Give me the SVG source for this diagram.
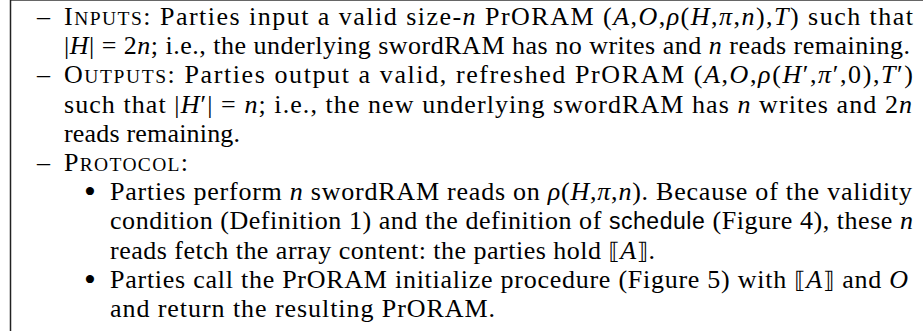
<svg xmlns="http://www.w3.org/2000/svg" width="923" height="331" viewBox="0 0 923 331">
<style>
text{font-family:"Liberation Serif","Times New Roman",serif;font-size:26px;fill:#000}
.i{font-style:italic}
.sc{font-size:19.5px}
.sf{font-family:"Liberation Sans",Arial,sans-serif;font-size:23px}
.br{font-family:"DejaVu Sans",sans-serif;font-size:23px}
.bul{font-size:34px}
.frame{stroke-linecap:square;fill:none}
</style>
<g id="frame">
<line class="frame" x1="10.5" y1="0.5" x2="923" y2="0.5" stroke="#666" stroke-width="1"/>
<line class="frame" x1="10.5" y1="0.5" x2="10.5" y2="331" stroke="#222" stroke-width="1.5"/>
</g>
<g id="inputs">
<text x="37" y="25">–</text>
<text x="64" y="25" textLength="849" lengthAdjust="spacing">I<tspan class="sc">NPUTS</tspan>: Parties input a valid size-<tspan class="i">n</tspan> PrORAM (<tspan class="i">A</tspan>,<tspan class="i">O</tspan>,<tspan class="i">ρ</tspan>(<tspan class="i">H</tspan>,<tspan class="i">π</tspan>,<tspan class="i">n</tspan>),<tspan class="i">T</tspan>) such that</text>
<text x="64" y="54.2" textLength="846" lengthAdjust="spacing">|<tspan class="i">H</tspan>| = 2<tspan class="i">n</tspan>; i.e., the underlying swordRAM has no writes and <tspan class="i">n</tspan> reads remaining.</text>
</g>
<g id="outputs">
<text x="37" y="83.4">–</text>
<text x="64" y="83.4" textLength="849" lengthAdjust="spacing">O<tspan class="sc">UTPUTS</tspan>: Parties output a valid, refreshed PrORAM (<tspan class="i">A</tspan>,<tspan class="i">O</tspan>,<tspan class="i">ρ</tspan>(<tspan class="i">H</tspan>′,<tspan class="i">π</tspan>′,0),<tspan class="i">T</tspan>′)</text>
<text x="64" y="112.6" textLength="848" lengthAdjust="spacing">such that |<tspan class="i">H</tspan>′| = <tspan class="i">n</tspan>; i.e., the new underlying swordRAM has <tspan class="i">n</tspan> writes and 2<tspan class="i">n</tspan></text>
<text x="64" y="141.8" textLength="176" lengthAdjust="spacing">reads remaining.</text>
</g>
<g id="protocol">
<text x="37" y="171">–</text>
<text x="64" y="171" textLength="124" lengthAdjust="spacing">P<tspan class="sc">ROTOCOL</tspan>:</text>
</g>
<g id="bullet1">
<text class="bul" x="84" y="203">•</text>
<text x="110" y="200.2" textLength="802" lengthAdjust="spacing">Parties perform <tspan class="i">n</tspan> swordRAM reads on <tspan class="i">ρ</tspan>(<tspan class="i">H</tspan>,<tspan class="i">π</tspan>,<tspan class="i">n</tspan>). Because of the validity</text>
<text x="110" y="229.4" textLength="803" lengthAdjust="spacing">condition (Definition 1) and the definition of <tspan class="sf">schedule</tspan> (Figure 4), these <tspan class="i">n</tspan></text>
<text x="110" y="258.6" textLength="545" lengthAdjust="spacing">reads fetch the array content: the parties hold <tspan class="br">⟦</tspan><tspan class="i">A</tspan><tspan class="br">⟧</tspan>.</text>
</g>
<g id="bullet2">
<text class="bul" x="84" y="290.6">•</text>
<text x="110" y="287.8" textLength="798" lengthAdjust="spacing">Parties call the PrORAM initialize procedure (Figure 5) with <tspan class="br">⟦</tspan><tspan class="i">A</tspan><tspan class="br">⟧</tspan> and <tspan class="i">O</tspan></text>
<text x="110" y="317" textLength="385" lengthAdjust="spacing">and return the resulting PrORAM.</text>
</g>
</svg>
